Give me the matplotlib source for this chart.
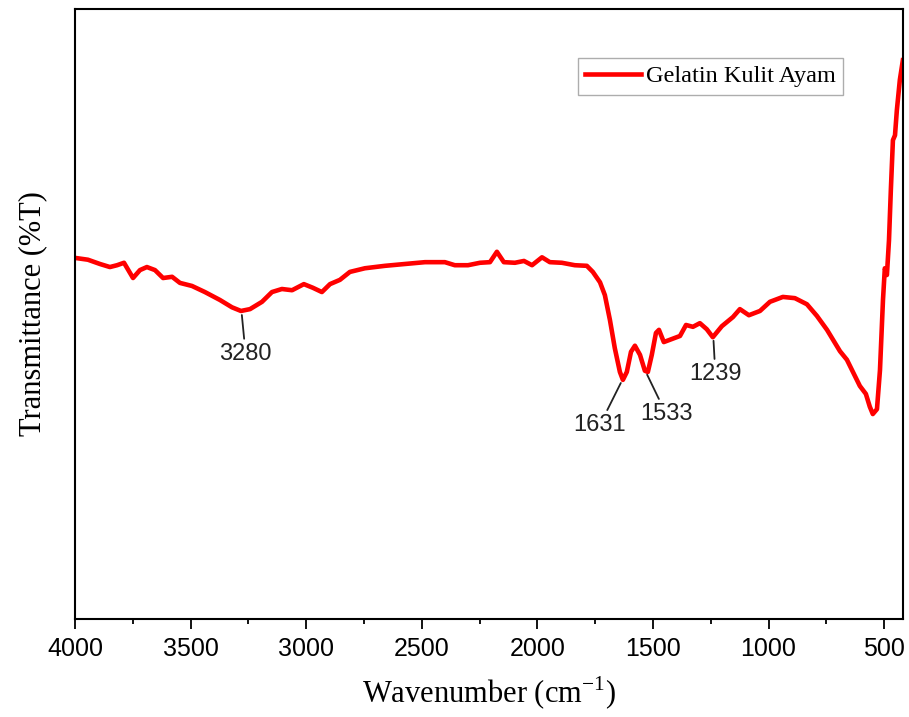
import matplotlib
matplotlib.use("Agg")
import matplotlib.pyplot as plt
from matplotlib.ticker import MultipleLocator
import numpy as np

# FTIR spectrum (wavenumber cm-1, %T arbitrary scale)
wavenumber = [4000, 3944, 3892, 3849, 3818, 3788, 3749, 3719, 3689, 3654,
              3619, 3580, 3546, 3494, 3438, 3373, 3321, 3282, 3243, 3191,
              3148, 3105, 3061, 3010, 2971, 2932, 2897, 2854, 2811, 2746,
              2659, 2573, 2486, 2400, 2357, 2300, 2248, 2205, 2175, 2145,
              2097, 2058, 2023, 1980, 1946, 1894, 1838, 1786, 1760, 1729,
              1708, 1686, 1665, 1643, 1630, 1613, 1595, 1578, 1556, 1535,
              1522, 1505, 1487, 1474, 1453, 1418, 1383, 1357, 1327, 1297,
              1267, 1241, 1202, 1154, 1124, 1085, 1037, 994, 938, 886,
              834, 791, 747, 691, 661, 605, 579, 562, 549, 531,
              518, 505, 497, 488, 479, 471, 462, 453, 445, 432, 419]
transmittance = [59.2, 58.9, 58.2, 57.7, 58.0, 58.4, 55.9, 57.2, 57.7, 57.2,
                 55.9, 56.1, 55.1, 54.6, 53.6, 52.3, 51.1, 50.5, 50.8, 52.0,
                 53.6, 54.1, 53.9, 54.9, 54.3, 53.6, 54.9, 55.6, 56.9, 57.5,
                 57.9, 58.2, 58.5, 58.5, 58.0, 58.0, 58.4, 58.5, 60.2, 58.5,
                 58.4, 58.7, 58.0, 59.3, 58.5, 58.4, 58.0, 57.9, 56.9, 55.2,
                 53.1, 49.0, 44.4, 40.5, 39.2, 40.5, 43.8, 44.8, 43.3, 40.7,
                 40.5, 43.3, 46.9, 47.4, 45.4, 45.9, 46.4, 48.2, 47.9, 48.5,
                 47.5, 46.2, 48.0, 49.5, 50.8, 49.8, 50.5, 52.0, 52.8, 52.6,
                 51.6, 49.7, 47.4, 43.9, 42.5, 38.2, 36.9, 34.8, 33.6, 34.4,
                 40.8, 52.3, 57.5, 56.4, 62.1, 70.3, 78.5, 79.3, 83.4, 88.4, 91.6]

peaks = [3280, 1631, 1533, 1239]
peak_labels = ["3280", "1631", "1533", "1239"]

wn = np.array(wavenumber)
tr = np.array(transmittance)

fig = plt.figure(figsize=(9.09, 7.17), dpi=100)
ax = fig.add_axes([0.0825, 0.1367, 0.911, 0.8507])

ax.plot(wn, tr, color="red", linewidth=3.3, label="Gelatin Kulit Ayam",
        solid_joinstyle="round")

ax.set_xlim(4000, 418)
ax.set_ylim(0, 100)
ax.xaxis.set_major_locator(MultipleLocator(500))
ax.xaxis.set_minor_locator(MultipleLocator(250))
ax.set_yticks([])
ax.tick_params(axis="x", which="major", direction="out", length=7, width=1.3,
               labelsize=18, pad=6)
ax.tick_params(axis="x", which="minor", direction="out", length=3.5, width=1.3)
for lab in ax.get_xticklabels():
    lab.set_family("Liberation Sans")
for s in ax.spines.values():
    s.set_linewidth(1.5)

ax.set_xlabel("Wavenumber (cm$^{\\mathregular{-1}}$)", family="Liberation Serif",
              fontsize=22, labelpad=10)
ax.set_ylabel("Transmittance (%T)", family="Liberation Serif", fontsize=22,
              labelpad=20)

# peak annotations (offsets in points)
offsets = [(3, -31), (-16.5, -33), (15, -31), (1.5, -27)]
for p, lbl, off in zip(peaks, peak_labels, offsets):
    yv = np.interp(-p, -wn, tr)
    ax.annotate(lbl, xy=(p, yv), xytext=off, textcoords="offset points",
                ha="center", va="center", fontsize=17, family="Liberation Sans",
                color="#222222",
                arrowprops=dict(arrowstyle="-", color="#222222", lw=1.3,
                                shrinkA=1, shrinkB=3))

leg = ax.legend(loc="upper right", bbox_to_anchor=(0.9275, 0.9197),
                prop={"family": "Liberation Serif", "size": 17.5},
                fancybox=False, handlelength=2.3, borderpad=0.3,
                handletextpad=0.2, borderaxespad=0)
leg.get_frame().set_edgecolor("#999999")
leg.get_frame().set_linewidth(1.0)

fig.savefig("out.png", dpi=100)
